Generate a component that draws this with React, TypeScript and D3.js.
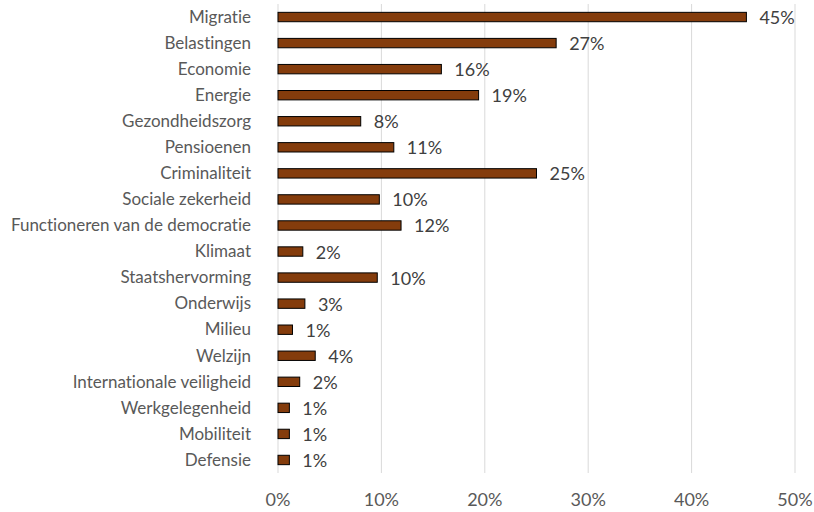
import React from "react";
import * as d3 from "d3";

const categories = [
  "Migratie",
  "Belastingen",
  "Economie",
  "Energie",
  "Gezondheidszorg",
  "Pensioenen",
  "Criminaliteit",
  "Sociale zekerheid",
  "Functioneren van de democratie",
  "Klimaat",
  "Staatshervorming",
  "Onderwijs",
  "Milieu",
  "Welzijn",
  "Internationale veiligheid",
  "Werkgelegenheid",
  "Mobiliteit",
  "Defensie",
];

const values = [45.3, 26.9, 15.8, 19.4, 8.0, 11.2, 25.0, 9.8, 11.9, 2.4, 9.6, 2.6, 1.4, 3.6, 2.1, 1.1, 1.1, 1.1];

const xTicks = [0, 10, 20, 30, 40, 50];

const W = 814;
const H = 512;
const margin = { left: 278, right: 19, top: 4, bottom: 39 };
const FONT = "Lato, 'Noto Sans', sans-serif";
const noLig = { fontVariantLigatures: "none" as const };

export default function App() {
  const x = d3.scaleLinear().domain([0, 50]).range([margin.left, W - margin.right]);
  const y = d3
    .scaleBand<string>()
    .domain(categories)
    .range([margin.top, H - margin.bottom])
    .paddingInner(0.64)
    .paddingOuter(0.32);
  const bw = y.bandwidth();
  const fmt = (v: number) => `${Math.round(v)}%`;

  return (
    <svg width={W} height={H} style={{ position: "absolute", left: 0, top: 0, background: "#fff" }}>
      {xTicks.map((t) => (
        <line key={t} x1={x(t)} x2={x(t)} y1={margin.top} y2={H - margin.bottom} stroke="#d9d9d9" strokeWidth={1} />
      ))}
      {categories.map((c, i) => {
        const yc = (y(c) as number) + bw / 2;
        return (
          <g key={c}>
            <rect
              x={x(0)}
              y={y(c)}
              width={x(values[i]) - x(0)}
              height={bw}
              fill="#843C0C"
              stroke="#000"
              strokeWidth={1}
            />
            <text x={x(0) - 27} y={yc + 5.8} textAnchor="end" fontFamily={FONT} fontSize={17} fill="#595959" style={noLig}>
              {c}
            </text>
            <text x={x(values[i]) + 13} y={yc + 7} fontFamily={FONT} fontSize={18} fill="#404040" style={noLig}>
              {fmt(values[i])}
            </text>
          </g>
        );
      })}
      {xTicks.map((t) => (
        <text key={"t" + t} x={x(t)} y={506} textAnchor="middle" fontFamily={FONT} fontSize={18} fill="#595959" style={noLig}>
          {`${t}%`}
        </text>
      ))}
    </svg>
  );
}
